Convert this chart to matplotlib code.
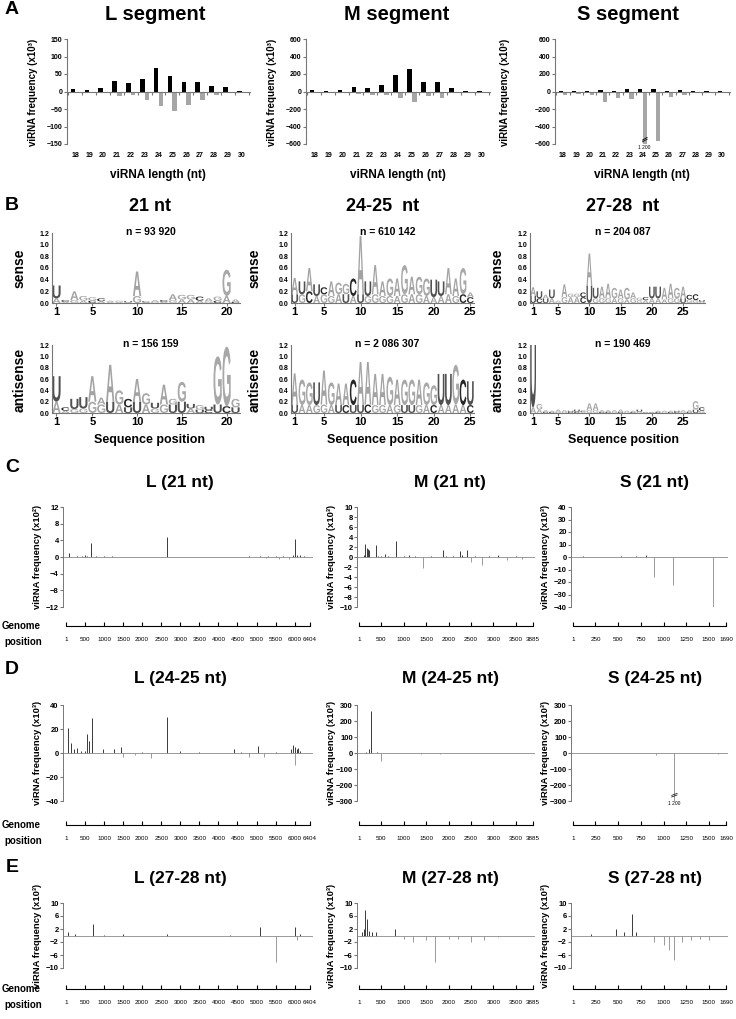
import numpy as np
import matplotlib
matplotlib.use('Agg')
import matplotlib.pyplot as plt
import matplotlib.transforms as mtrans
from matplotlib import font_manager
from matplotlib.font_manager import FontProperties
from matplotlib.textpath import TextPath
from matplotlib.patches import PathPatch

W, H = 736, 1019

# ---------------- A : viRNA size distribution (x10^3) ----------------
lengths = list(range(18, 31))
L_sense = [6, 5, 10, 30, 23, 37, 66, 45, 28, 28, 16, 13, 2]
L_anti = [-1, -1, -3, -12, -10, -24, -42, -55, -38, -24, -10, -3, -1]
M_sense = [15, 10, 20, 50, 40, 70, 190, 255, 110, 110, 35, 10, 5]
M_anti = [-3, -5, -8, -30, -40, -35, -75, -120, -55, -70, -20, -5, -2]
S_sense = [5, 5, 5, 15, 10, 30, 25, 25, 10, 18, 5, 3, 3]
S_anti = [-35, -30, -45, -115, -75, -85, -1200, -570, -65, -35, -15, -5, -5]

# ---------------- B : sequence logos (bits) ----------------
# top letter / height, bottom letter / height for each position
s21_top = "UCAGGCAGUACACAGGCAGGA"
s21_top_h = [0.22, 0.03, 0.15, 0.08, 0.06, 0.05, 0.02, 0.02, 0.02, 0.42, 0.02,
             0.03, 0.03, 0.10, 0.08, 0.08, 0.07, 0.05, 0.07, 0.45, 0.04]
s21_bot = "AAGACAAAAGAGAGAAAGCAC"
s21_bot_h = [0.08, 0.02, 0.05, 0.04, 0.04, 0.03, 0.02, 0.02, 0.01, 0.12, 0.01,
             0.02, 0.02, 0.05, 0.06, 0.06, 0.04, 0.03, 0.04, 0.12, 0.02]
a21_top = "UCUUAAAGCAGUAGGUGUGGG"
a21_top_h = [0.45, 0.06, 0.18, 0.20, 0.45, 0.12, 0.65, 0.25, 0.15, 0.40, 0.20,
             0.10, 0.35, 0.10, 0.35, 0.08, 0.08, 0.06, 0.85, 1.05, 0.15]
a21_bot = "AAGGGGUAUUAGGUUAUCUCU"
a21_bot_h = [0.20, 0.04, 0.07, 0.08, 0.20, 0.15, 0.20, 0.15, 0.10, 0.20, 0.15,
             0.08, 0.15, 0.15, 0.20, 0.08, 0.06, 0.05, 0.15, 0.12, 0.10]
s24_top = "AUAUCAGGCAUAAGAGAGGUUAAGA"
s24_top_h = [0.28, 0.22, 0.40, 0.20, 0.12, 0.25, 0.20, 0.18, 0.30, 1.00, 0.25, 0.50, 0.25,
             0.30, 0.30, 0.50, 0.30, 0.30, 0.30, 0.30, 0.25, 0.45, 0.30, 0.45, 0.08]
s24_bot = "UGCAGGAUAUGGGGAGAGAAAAGCC"
s24_bot_h = [0.15, 0.15, 0.20, 0.12, 0.15, 0.12, 0.15, 0.15, 0.12, 0.15, 0.12, 0.15, 0.12,
             0.12, 0.12, 0.15, 0.15, 0.15, 0.12, 0.10, 0.12, 0.15, 0.12, 0.15, 0.10]
a24_top = "AGGUAGAACAAAAGAGGAGGUUGCU"
a24_top_h = [0.55, 0.45, 0.40, 0.40, 0.60, 0.40, 0.38, 0.38, 0.45, 0.75, 0.75, 0.55, 0.55,
             0.50, 0.45, 0.45, 0.45, 0.45, 0.40, 0.35, 0.55, 0.55, 0.70, 0.45, 0.42]
a24_bot = "UAAGGAUCUUCGGAGUUGACAAAAC"
a24_bot_h = [0.15, 0.14, 0.14, 0.14, 0.15, 0.14, 0.14, 0.14, 0.14, 0.15, 0.15, 0.14, 0.14,
             0.14, 0.14, 0.14, 0.14, 0.14, 0.14, 0.14, 0.14, 0.14, 0.15, 0.14, 0.14]
s27_top = "AUAUAAGGCAUAAGAGAGCUUAAGACCU"
s27_top_h = [0.15, 0.12, 0.06, 0.15, 0.02, 0.22, 0.06, 0.06, 0.08, 0.55, 0.18, 0.20, 0.25, 0.18,
             0.15, 0.20, 0.10, 0.05, 0.05, 0.20, 0.20, 0.20, 0.25, 0.18, 0.20, 0.08, 0.10, 0.03]
s27_bot = "UCUAGGAACUGGGAGAGGAAAAGGUGGG"
s27_bot_h = [0.12, 0.08, 0.08, 0.08, 0.02, 0.10, 0.10, 0.10, 0.10, 0.30, 0.08, 0.08, 0.08, 0.08,
             0.08, 0.06, 0.08, 0.04, 0.05, 0.08, 0.08, 0.06, 0.08, 0.08, 0.08, 0.06, 0.05, 0.02]
a27_top = "UGAAAAUUCAAAAAAAAUAAAAAUAAGC"
a27_top_h = [1.40, 0.10, 0.03, 0.02, 0.04, 0.03, 0.02, 0.04, 0.02, 0.12, 0.12, 0.03, 0.03, 0.03,
             0.04, 0.02, 0.02, 0.04, 0.01, 0.01, 0.02, 0.02, 0.02, 0.02, 0.03, 0.03, 0.15, 0.06]
a27_bot = "AACCGGCCAGGCCGCGCGCCCGCCGCUG"
a27_bot_h = [0.10, 0.06, 0.02, 0.02, 0.02, 0.02, 0.02, 0.02, 0.02, 0.05, 0.05, 0.02, 0.02, 0.02,
             0.02, 0.02, 0.02, 0.02, 0.01, 0.01, 0.02, 0.02, 0.02, 0.02, 0.02, 0.02, 0.06, 0.04]

# ---------------- C-E : viRNA profiles along the genome ----------------
L_len, M_len, S_len = 6404, 3885, 1690
L_ruler = [1, 500, 1000, 1500, 2000, 2500, 3000, 3500, 4000, 4500, 5000, 5500, 6000, 6404]
M_ruler = [1, 500, 1000, 1500, 2000, 2500, 3000, 3500, 3885]
S_ruler = [1, 250, 500, 750, 1000, 1250, 1500, 1690]

# 21 nt
C_L_pos = [80, 300, 420, 500, 560, 660, 800, 1000, 1200, 1500, 2000, 2650, 3000, 3600, 4200,
           4800, 5100, 5250, 5300, 5500, 5600, 5700, 5850, 5950, 6000, 6050, 6150, 6250]
C_L_val = [0.9, 0.2, 0.3, 0.6, 0.3, 3.3, 0.2, 0.2, 0.15, 0.1, 0.1, 4.8, 0.1, 0.1, 0.1,
           0.2, 0.3, -0.3, 0.25, 0.3, -0.4, 0.3, -0.5, 0.5, 4.4, 0.6, 0.4, 0.3]
C_M_pos = [100, 140, 170, 200, 230, 370, 420, 480, 570, 650, 830, 1000, 1110, 1250, 1420,
           1600, 1880, 1950, 2100, 2250, 2300, 2420, 2510, 2600, 2750, 2900, 3100, 3300, 3500, 3650]
C_M_val = [0.5, 2.6, 1.8, 1.6, 1.5, 2.5, 0.3, 0.3, 0.7, 0.2, 3.3, 0.2, 0.4, 0.2, -2.2,
           0.2, 1.4, 0.3, 0.2, 1.2, 0.5, 1.4, -1.0, 0.3, -1.5, 0.3, 0.4, -0.5, 0.3, -0.4]
C_S_pos = [110, 300, 530, 700, 810, 890, 1100, 1540]
C_S_val = [1.0, 0.3, 0.5, 0.5, 2.0, -16, -22, -40]

# 24-25 nt
D_L_pos = [50, 130, 200, 300, 400, 500, 550, 600, 680, 970, 1250, 1450, 1500, 1800, 2000, 2230,
           2650, 3000, 3500, 4400, 4600, 4800, 5050, 5200, 5500, 5900, 5950, 6000, 6020, 6050, 6100, 6150]
D_L_val = [21, 8, 3, 4, 2, 2, 16, 10, 29, 3, 3, 5, -3, -2, 1, -4,
           30, 1.5, 0.5, 3, 1, -3, 6, -3, 1, 3, 7, -10, 5, 3, 4, 2]
D_M_pos = [150, 220, 260, 410, 500, 800, 1380, 1800, 2500, 3200]
D_M_val = [5, 25, 260, 8, -50, 3, -5, -8, 2, -2]
D_S_pos = [290, 500, 730, 920, 1120, 1310, 1600]
D_S_val = [-3, 2, 3, -10, -1200, 3, -8]

# 27-28 nt
E_L_pos = [60, 250, 700, 1000, 1500, 2650, 4300, 5100, 5500, 6000, 6050, 6150]
E_L_val = [1, 0.6, 3.5, 0.3, 0.5, 0.6, 0.3, 2.7, -8.0, 2.5, -1.5, 0.5]
E_M_pos = [60, 100, 140, 180, 220, 300, 380, 800, 1000, 1200, 1500, 1700, 2000, 2200, 2500, 2800, 3100]
E_M_val = [1, 2, 8, 5, 1.5, 1, 1.2, 2, -1, -2, -1.5, -8, -1, -1, -2, -1.5, -0.5]
E_S_pos = [200, 480, 560, 650, 700, 900, 1000, 1060, 1120, 1200, 1300, 1400, 1500]
E_S_val = [0.5, 2, 1, 6.5, 1, -2, -3, -4.5, -7.5, -2, -1.5, -1, -1.5]

plt.rcParams['font.family'] = ['Liberation Sans', 'DejaVu Sans']
names = {f.name for f in font_manager.fontManager.ttflist}
NARROW = 'Liberation Sans Narrow' if 'Liberation Sans Narrow' in names else 'Liberation Sans'
AX = '#777777'

fig = plt.figure(figsize=(W / 100, H / 100), dpi=100)


def px_axes(x0, y0, x1, y1):
    return fig.add_axes([x0 / W, 1 - y1 / H, (x1 - x0) / W, (y1 - y0) / H])


def ftext(x, y, s, **kw):
    kw.setdefault('fontweight', 'bold')
    kw.setdefault('ha', 'center')
    kw.setdefault('va', 'center')
    fig.text(x / W, 1 - y / H, s, **kw)


def ylab(x, y, s, size=7):
    ftext(x, y, s, rotation=90, fontsize=size)


# ---------- A ----------
def size_panel(box, sense, anti, ymax, step):
    ax = px_axes(*box)
    x = np.array(lengths)
    ax.bar(x - 0.17, sense, 0.33, color='black')
    ax.bar(x + 0.17, anti, 0.33, color='#a6a6a6')
    ax.set_xlim(17.4, 30.6)
    ax.set_ylim(-ymax, ymax)
    ax.set_yticks(np.arange(-ymax, ymax + 1, step))
    ax.spines[['top', 'right']].set_visible(False)
    ax.spines['bottom'].set_position(('data', 0))
    for s in ['left', 'bottom']:
        ax.spines[s].set_color(AX)
        ax.spines[s].set_linewidth(0.8)
    ax.set_xticks(np.arange(17.5, 31, 1))
    ax.tick_params(axis='x', length=2, color=AX, labelbottom=False)
    ax.tick_params(axis='y', length=2, color=AX, labelsize=5, pad=1.5)
    for t in ax.get_yticklabels():
        t.set_fontweight('bold')
    for v in lengths:
        ax.text(v, -0.105, str(v), transform=ax.get_xaxis_transform(), ha='center',
                va='center', fontsize=5, fontweight='bold')
    return ax


ftext(12, 10, 'A', fontsize=14)
size_panel((67, 39, 250, 144), L_sense, L_anti, 150, 50)
size_panel((306, 39, 490, 144), M_sense, M_anti, 600, 200)
axS = size_panel((555, 39, 730, 144), S_sense, S_anti, 600, 200)
# broken bar at 24 nt
axS.plot([24.0, 24.35], [-575, -545], color='black', lw=0.6, clip_on=False)
axS.plot([24.0, 24.35], [-555, -525], color='black', lw=0.6, clip_on=False)
axS.text(24.1, -640, '1 200', fontsize=3.5, ha='center', va='center')
for x0, t in [(155, 'L segment'), (397, 'M segment'), (628, 'S segment')]:
    ftext(x0, 15, t, fontsize=14.5)
for x0, lx in [(158, 33), (398, 272), (642, 505)]:
    ftext(x0, 175, 'viRNA length (nt)', fontsize=8.5)
    ylab(lx, 92, 'viRNA frequency (x10³)')

# ---------- B ----------
fp_logo = FontProperties(family='Liberation Sans', weight='bold')
letter_colors = {'A': '#a3a3a3', 'G': '#a8a8a8', 'U': '#505050', 'C': '#262626'}
paths = {ch: TextPath((0, 0), ch, size=1, prop=fp_logo) for ch in 'ACGU'}


def draw_letter(ax, ch, x, y0, h, w=0.92):
    tp = paths[ch]
    bb = tp.get_extents()
    tr = mtrans.Affine2D().translate(-bb.x0, -bb.y0).scale(w / bb.width, h / bb.height)
    tr = tr.translate(x - w / 2, y0)
    ax.add_patch(PathPatch(tr.transform_path(tp), fc=letter_colors[ch], ec='none', lw=0))


def logo_panel(box, top, top_h, bot, bot_h, label, xt):
    ax = px_axes(*box)
    n = len(top)
    for i in range(n):
        draw_letter(ax, bot[i], i + 1, 0, bot_h[i])
        draw_letter(ax, top[i], i + 1, bot_h[i], top_h[i])
    ax.set_xlim(0.5, n + 0.5)
    ax.set_ylim(0, 1.2)
    ax.spines[['top', 'right']].set_visible(False)
    for s in ['left', 'bottom']:
        ax.spines[s].set_color(AX)
        ax.spines[s].set_linewidth(0.8)
    ax.set_yticks(np.arange(0, 1.21, 0.2))
    ax.set_yticklabels(['%.1f' % v for v in np.arange(0, 1.21, 0.2)])
    ax.set_xticks(xt)
    ax.tick_params(axis='y', length=0, labelsize=5, pad=2)
    ax.tick_params(axis='x', length=2, color=AX, labelsize=8, pad=1)
    for t in ax.get_yticklabels() + ax.get_xticklabels():
        t.set_fontweight('bold')
    cx = (box[0] + box[2]) / 2
    ftext(cx + 5, box[1] - 1, label, fontsize=7.5)
    return ax


ftext(12, 205, 'B', fontsize=14)
xt21 = [1, 5, 10, 15, 20]
xt25 = [1, 5, 10, 15, 20, 25]
logo_panel((52, 233, 240, 303), s21_top, s21_top_h, s21_bot, s21_bot_h, 'n = 93 920', xt21)
logo_panel((52, 345, 240, 413), a21_top, a21_top_h, a21_bot, a21_bot_h, 'n = 156 159', xt21)
logo_panel((291, 233, 474, 303), s24_top, s24_top_h, s24_bot, s24_bot_h, 'n = 610 142', xt25)
logo_panel((291, 345, 474, 413), a24_top, a24_top_h, a24_bot, a24_bot_h, 'n = 2 086 307', xt25)
logo_panel((530, 233, 705, 303), s27_top, s27_top_h, s27_bot, s27_bot_h, 'n = 204 087', xt25)
logo_panel((530, 345, 705, 413), a27_top, a27_top_h, a27_bot, a27_bot_h, 'n = 190 469', xt25)
for x0, t, lx in [(150, '21 nt', 20), (383, '24-25  nt', 255), (623, '27-28  nt', 498)]:
    ftext(x0, 207, t, fontsize=13)
    ftext(x0, 440, 'Sequence position', fontsize=9)
    ylab(lx, 268, 'sense', size=10)
    ylab(lx, 380, 'antisense', size=10)


# ---------- C-E ----------
def genome_panel(box, pos, val, glen, ymax, ystep, unit, ruler, ruler_y):
    x0, y0, x1, y1 = box
    ax = px_axes(*box)
    pos = np.array(pos)
    val = np.array(val, dtype=float)
    up = val > 0
    ax.vlines(pos[up], 0, val[up], color='#3a3a3a', lw=0.7)
    ax.vlines(pos[~up], 0, val[~up], color='#9a9a9a', lw=0.7)
    ax.axhline(0, color='#8a8a8a', lw=0.6)
    pad = glen * 0.012
    ax.set_xlim(1 - pad, glen + pad)
    ax.set_ylim(-ymax, ymax)
    ax.set_yticks(np.arange(-ymax, ymax + 0.1, ystep))
    ax.set_xticks([])
    for s in ['top', 'right', 'bottom']:
        ax.spines[s].set_visible(False)
    ax.spines['left'].set_color(AX)
    ax.spines['left'].set_linewidth(0.7)
    ax.tick_params(axis='y', length=2, color=AX, labelsize=5.5, pad=1)
    for t in ax.get_yticklabels():
        t.set_fontweight('bold')
        t.set_fontfamily(NARROW)
    # genome ruler
    axr = px_axes(x0, ruler_y - 1, x1, ruler_y)
    axr.set_xlim(1 - pad, glen + pad)
    axr.set_yticks([])
    axr.set_xticks(ruler)
    axr.set_xticklabels([str(r) for r in ruler])
    for s in ['top', 'right', 'left']:
        axr.spines[s].set_visible(False)
    axr.spines['bottom'].set_bounds(1, glen)
    axr.spines['bottom'].set_linewidth(0.8)
    axr.tick_params(axis='x', direction='in', length=3, width=0.8, labelsize=4.5, pad=8)
    ylab((x0 - 26), (y0 + y1) / 2, 'viRNA frequency (x10%s)' % unit, size=6.8)
    return ax


rows = [
    ('C', 468, 483, (507, 607), 626,
     [(C_L_pos, C_L_val, 12, 4, '²'), (C_M_pos, C_M_val, 10, 2, '³'), (C_S_pos, C_S_val, 40, 10, '³')],
     ['L (21 nt)', 'M (21 nt)', 'S (21 nt)']),
    ('D', 670, 678, (705, 801), 825,
     [(D_L_pos, D_L_val, 40, 20, '³'), (D_M_pos, D_M_val, 300, 100, '³'), (D_S_pos, D_S_val, 300, 100, '³')],
     ['L (24-25 nt)', 'M (24-25 nt)', 'S (24-25 nt)']),
    ('E', 868, 878, (903, 968), 989,
     [(E_L_pos, E_L_val, 10, 4, '³'), (E_M_pos, E_M_val, 10, 4, '³'), (E_S_pos, E_S_val, 10, 4, '³')],
     ['L (27-28 nt)', 'M (27-28 nt)', 'S (27-28 nt)']),
]
cols = [((63, 313), L_len, L_ruler, 180), ((357, 535), M_len, M_ruler, 450), ((571, 728), S_len, S_ruler, 655)]

for letter, ly, ty, (ya, yb), ry, series, titles in rows:
    ftext(12, ly, letter, fontsize=14)
    ftext(21, ry, 'Genome', fontsize=7)
    ftext(23, ry + 16, 'position', fontsize=7)
    for (xr, glen, ruler, tx), (p, v, ym, st, u), title in zip(cols, series, titles):
        ax = genome_panel((xr[0], ya, xr[1], yb), p, v, glen, ym, st, u, ruler, ry)
        ftext(tx, ty, title, fontsize=12.5)
        if letter == 'E':
            ax.set_yticks([-10, -6, -2, 2, 6, 10])
            for t in ax.get_yticklabels():
                t.set_fontweight('bold')
                t.set_fontfamily(NARROW)
        if letter == 'D' and glen == S_len:
            ax.plot([1090, 1150], [-275, -262], color='black', lw=0.5)
            ax.plot([1090, 1150], [-265, -252], color='black', lw=0.5)
            ax.text(1120, -318, '1 200', fontsize=3.5, ha='center', va='center')

fig.savefig('out.png', dpi=100)
